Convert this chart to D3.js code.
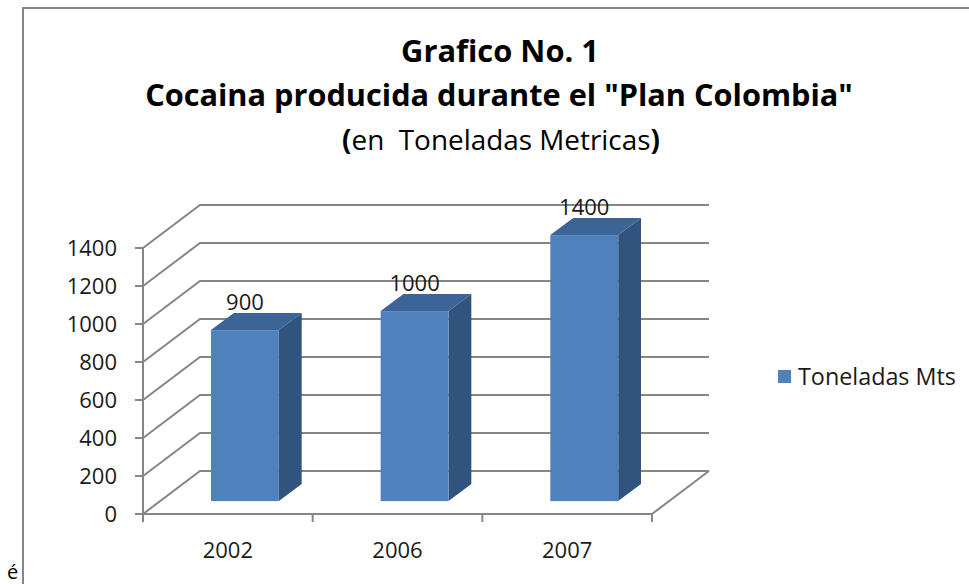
<!DOCTYPE html>
<html>
<head>
<meta charset="utf-8">
<script src="https://cdn.jsdelivr.net/npm/d3@7"></script>
<style>
	html, body { margin: 0; padding: 0; background: #fff; }
	svg { display: block; font-family: "Open Sans", "Noto Sans", sans-serif; }
	text { white-space: pre; }
</style>
</head>
<body>
<div id="chart"></div>
<script>
// chart data
var years = ['2002', '2006', '2007'];
var toneladas = [900, 1000, 1400];
var yTicks = [0, 200, 400, 600, 800, 1000, 1200, 1400];
var seriesName = 'Toneladas Mts';
var titleLines = ['Grafico No. 1', 'Cocaina producida durante el "Plan Colombia"'];
var subtitle = ['(', 'en  Toneladas Metricas', ')'];

var width = 969, height = 584;
var gridColor = '#868686';

// 3d depth of the floor / walls
var depthX = 57, depthY = -43;
var barFront = 0.3, barBack = 0.7;

var svg = d3.select('#chart').append('svg')
		.attr('width', width)
		.attr('height', height);

// chart frame (cut by the screenshot on the right and bottom)
svg.append('rect')
	.attr('x', 23).attr('y', 8)
	.attr('width', 980).attr('height', 620)
	.attr('fill', 'none')
	.attr('stroke', gridColor)
	.attr('stroke-width', 2);

var x = d3.scaleBand().domain(years).range([143, 652]).paddingInner(0.6).paddingOuter(0.3);
var y = d3.scaleLinear().domain([0, 1400]).range([514, 248]);
var step = (652 - 143) / years.length;

/**
 * Scales the font size so the text gets the wanted width
 */
var fit = function(sel, target) {
	var w = sel.node().getComputedTextLength();
	var fs = parseFloat(sel.style('font-size'));
	sel.style('font-size', (fs * target / w) + 'px');
};

// title
var t1 = svg.append('text').attr('x', 500).attr('y', 62).attr('text-anchor', 'middle')
	.style('font-weight', 'bold').style('font-size', '28px').attr('fill', '#000').text(titleLines[0]);
fit(t1, 198);
var t2 = svg.append('text').attr('x', 499).attr('y', 106).attr('text-anchor', 'middle')
	.style('font-weight', 'bold').style('font-size', '28px').attr('fill', '#000').text(titleLines[1]);
fit(t2, 708);
var t3 = svg.append('text').attr('x', 501).attr('y', 150).attr('text-anchor', 'middle')
	.style('font-size', '22px').attr('fill', '#000');
t3.selectAll('tspan').data(subtitle).enter().append('tspan')
	.style('font-weight', function(d, i) { return i === 1 ? 'normal' : 'bold'; })
	.text(function(d) { return d; });
fit(t3, 318);

// walls: left diagonals + back horizontals
var grid = svg.append('g').attr('stroke', gridColor).attr('stroke-width', 2).attr('fill', 'none');
grid.selectAll('path.grid').data(yTicks).enter().append('path')
	.attr('class', 'grid')
	.attr('d', function(d) {
		return 'M' + x.range()[0] + ',' + y(d) +
			'L' + (x.range()[0] + depthX) + ',' + (y(d) + depthY) +
			'L' + (x.range()[1] + depthX) + ',' + (y(d) + depthY);
	});
// floor right edge
grid.append('path')
	.attr('d', 'M' + x.range()[1] + ',' + y(0) + 'L' + (x.range()[1] + depthX) + ',' + (y(0) + depthY));

// y axis
grid.append('path').attr('d', 'M' + x.range()[0] + ',' + y(1400) + 'L' + x.range()[0] + ',' + (y(0) + 7));
grid.selectAll('path.ytick').data(yTicks).enter().append('path')
	.attr('class', 'ytick')
	.attr('d', function(d) { return 'M' + (x.range()[0] - 8) + ',' + y(d) + 'L' + x.range()[0] + ',' + y(d); });

// x axis
grid.append('path').attr('d', 'M' + x.range()[0] + ',' + y(0) + 'L' + x.range()[1] + ',' + y(0));
grid.selectAll('path.xtick').data(d3.range(years.length + 1)).enter().append('path')
	.attr('class', 'xtick')
	.attr('d', function(d) {
		var xx = x.range()[0] + d * step;
		return 'M' + xx + ',' + y(0) + 'L' + xx + ',' + (y(0) + 8);
	});

// tick labels
svg.append('g').selectAll('text').data(yTicks).enter().append('text')
	.attr('x', 117).attr('y', function(d) { return y(d); })
	.attr('dy', '0.36em')
	.attr('text-anchor', 'end')
	.style('font-size', '22px')
	.attr('fill', '#1a1a1a')
	.text(function(d) { return d; });

svg.append('g').selectAll('text').data(years).enter().append('text')
	.attr('x', function(d) { return x(d) + x.bandwidth() / 2; })
	.attr('y', 558)
	.attr('text-anchor', 'middle')
	.style('font-size', '22px')
	.attr('fill', '#1a1a1a')
	.text(function(d) { return d; });

// 3d bars
var fx = depthX * barFront, fy = depthY * barFront;
var bx = depthX * barBack, by = depthY * barBack;
var bars = svg.append('g').selectAll('g').data(years).enter().append('g');

bars.append('path') // side
	.attr('fill', '#31547E')
	.attr('d', function(d, i) {
		var x1 = x(d) + x.bandwidth();
		return 'M' + (x1 + fx) + ',' + (y(0) + fy) +
			'L' + (x1 + bx) + ',' + (y(0) + by) +
			'L' + (x1 + bx) + ',' + (y(toneladas[i]) + by) +
			'L' + (x1 + fx) + ',' + (y(toneladas[i]) + fy) + 'Z';
	});
bars.append('path') // top
	.attr('fill', '#3C6496')
	.attr('d', function(d, i) {
		var x0 = x(d), x1 = x(d) + x.bandwidth(), yy = y(toneladas[i]);
		return 'M' + (x0 + fx) + ',' + (yy + fy) +
			'L' + (x0 + bx) + ',' + (yy + by) +
			'L' + (x1 + bx) + ',' + (yy + by) +
			'L' + (x1 + fx) + ',' + (yy + fy) + 'Z';
	});
bars.append('rect') // front
	.attr('fill', '#4F81BD')
	.attr('x', function(d) { return x(d) + fx; })
	.attr('y', function(d, i) { return y(toneladas[i]) + fy; })
	.attr('width', x.bandwidth())
	.attr('height', function(d, i) { return y(0) - y(toneladas[i]); });

// value labels
bars.append('text')
	.attr('x', function(d) { return x(d) + fx + x.bandwidth() / 2; })
	.attr('y', function(d, i) { return y(toneladas[i]) + by - 3; })
	.attr('text-anchor', 'middle')
	.style('font-size', '22px')
	.attr('fill', '#1a1a1a')
	.text(function(d, i) { return toneladas[i]; });

// legend
svg.append('rect')
	.attr('x', 778).attr('y', 370).attr('width', 13).attr('height', 13)
	.attr('fill', '#4F81BD');
var lg = svg.append('text')
	.attr('x', 798).attr('y', 385)
	.style('font-size', '20px')
	.attr('fill', '#1a1a1a')
	.text(seriesName);
fit(lg, 158);

// stray character under the frame
svg.append('text')
	.attr('x', 7).attr('y', 579)
	.style('font-size', '20px')
	.attr('fill', '#000')
	.text('é');
</script>
</body>
</html>
